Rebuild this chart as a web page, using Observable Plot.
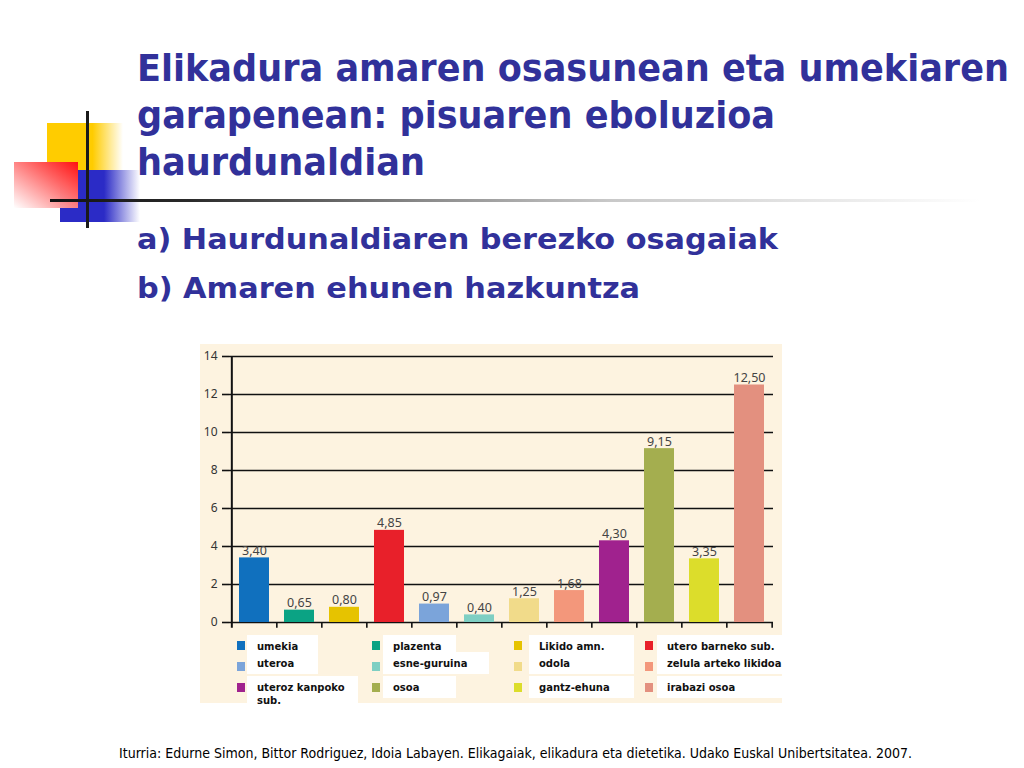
<!DOCTYPE html>
<html>
<head>
<meta charset="utf-8">
<script src="https://cdn.jsdelivr.net/npm/d3@7"></script>
<script src="https://cdn.jsdelivr.net/npm/@observablehq/plot@0.6"></script>
<style>
  html, body { margin: 0; padding: 0; background: #fff; }
  #page { position: relative; width: 1024px; height: 768px; overflow: hidden; background: #fff; }
  .abs { position: absolute; }
  #panel { position: absolute; left: 200px; top: 344px; width: 582px; height: 359px; background: #FDF3E0; }
  #chart { position: absolute; left: 0; top: 0; }
  .lg-box { position: absolute; background: #fff; }
  .lg-sw { position: absolute; width: 8px; height: 9px; }
  .lg-tx { position: absolute; font-family: "DejaVu Sans", Verdana, sans-serif; font-weight: bold; font-size: 10px; color: #111; line-height: 13px; white-space: nowrap; }
</style>
</head>
<body>
<div id="page">
  <!-- decoration -->
  <div class="abs" style="left:47px;top:123px;width:76px;height:47px;background:linear-gradient(to right,#FFCC00 0%,#FFCC00 60%,rgba(255,204,0,0) 100%);"></div>
  <div class="abs" style="left:60px;top:170px;width:80px;height:52px;background:linear-gradient(to right,#2B2BC6 0%,#2B2BC6 55%,rgba(43,43,198,0) 100%);"></div>
  <div class="abs" style="left:14px;top:162px;width:64px;height:46px;background:linear-gradient(to bottom left,#FF1010 0%,#FF6060 35%,rgba(255,255,255,0.9) 100%);"></div>
  <div class="abs" style="left:86px;top:111px;width:3px;height:117px;background:#1a1a1a;"></div>
  <div class="abs" style="left:50px;top:199px;width:930px;height:3px;background:linear-gradient(to right,#111 0%,#2a2a2a 15%,#8a8a8a 40%,#c8c8c8 60%,#e6e6e6 82%,#ffffff 100%);"></div>

  <svg class="abs" style="left:0;top:0" width="1024" height="768" id="texts">
    <g fill="#31319A" font-family="'DejaVu Sans Condensed', 'DejaVu Sans', sans-serif" font-weight="bold">
      <text id="t1" x="137" y="81" font-size="38" textLength="872" lengthAdjust="spacingAndGlyphs"></text>
      <text id="t2" x="137" y="128" font-size="38" textLength="638" lengthAdjust="spacingAndGlyphs"></text>
      <text id="t3" x="137" y="175" font-size="38" textLength="288" lengthAdjust="spacingAndGlyphs"></text>
      <text id="s1" x="137" y="249" font-size="29" textLength="641" lengthAdjust="spacingAndGlyphs"></text>
      <text id="s2" x="137" y="298" font-size="29" textLength="503" lengthAdjust="spacingAndGlyphs"></text>
    </g>
    <text id="foot" x="119" y="758" font-family="'DejaVu Sans Condensed', 'DejaVu Sans', sans-serif" font-size="13.5" fill="#000" textLength="793" lengthAdjust="spacingAndGlyphs"></text>
  </svg>

  <div id="panel">
    <div id="chart"></div>
    <div id="legend"></div>
  </div>
</div>
<script>
// ---- data ----
const titleLines = ["Elikadura amaren osasunean eta umekiaren", "garapenean: pisuaren eboluzioa", "haurdunaldian"];
const subtitleLines = ["a) Haurdunaldiaren berezko osagaiak", "b) Amaren ehunen hazkuntza"];
const footer = "Iturria: Edurne Simon, Bittor Rodriguez, Idoia Labayen. Elikagaiak, elikadura eta dietetika. Udako Euskal Unibertsitatea. 2007.";

const categories = ["umekia", "plazenta", "Likido amn.", "utero barneko sub.", "uteroa", "esne-guruina", "odola", "zelula arteko likidoa", "uteroz kanpoko sub.", "osoa", "gantz-ehuna", "irabazi osoa"];
const values = [3.40, 0.65, 0.80, 4.85, 0.97, 0.40, 1.25, 1.68, 4.30, 9.15, 3.35, 12.50];
const colors = ["#1070BE", "#0BA384", "#E6C300", "#E8202A", "#7BA4DA", "#7ECFC3", "#F1DB8A", "#F3977B", "#A0228E", "#A4AE4F", "#DCDD2B", "#E3907F"];
const legendLabels = ["umekia", "plazenta", "Likido amn.", "utero barneko sub.", "uteroa", "esne-guruina", "odola", "zelula arteko likidoa", "uteroz kanpoko\nsub.", "osoa", "gantz-ehuna", "irabazi osoa"];
const yTicks = [0, 2, 4, 6, 8, 10, 12, 14];

// ---- texts ----
["t1","t2","t3"].forEach((id,i)=>document.getElementById(id).textContent = titleLines[i]);
["s1","s2"].forEach((id,i)=>document.getElementById(id).textContent = subtitleLines[i]);
document.getElementById("foot").textContent = footer;

// ---- chart ----
const data = categories.map((c, i) => ({name: c, value: values[i], color: colors[i]}));
const W = 582, H = 290, mL = 29, mR = 9, mT = 12, mB = 12;
const step = (W - mL - mR) / categories.length;
const fmt = v => d3.format(".2f")(v).replace(".", ",");

const chart = Plot.plot({
  width: W, height: H,
  marginLeft: mL, marginRight: mR, marginTop: mT, marginBottom: mB,
  style: {background: "transparent", fontFamily: "'Noto Sans', 'Open Sans', sans-serif", fontSize: "12px", color: "#222", overflow: "visible"},
  x: {domain: categories, paddingInner: 0.34, paddingOuter: 0.17, axis: null},
  y: {domain: [0, 14], axis: null},
  color: {type: "identity"},
  marks: [
    Plot.ruleY(yTicks, {stroke: "#111", strokeWidth: 1.6}),
    Plot.axisY(yTicks, {tickSize: 7, tickPadding: 5, tickFormat: d => d, stroke: "#111", strokeWidth: 1.6, fill: "#333", fontSize: 12, label: null}),
    Plot.barY(data, {x: "name", y: "value", fill: "color"}),
    Plot.ruleX([categories[0]], {x: d => d, dx: -step / 2, y1: -0.3, y2: 14, stroke: "#111", strokeWidth: 2}),
    Plot.ruleX(categories.slice(1), {x: d => d, dx: -step / 2, y1: -0.3, y2: 0, stroke: "#111", strokeWidth: 1.6}),
    Plot.ruleX([categories[categories.length - 1]], {x: d => d, dx: step / 2, y1: -0.3, y2: 0, stroke: "#111", strokeWidth: 1.6}),
    Plot.text(data, {x: "name", y: "value", text: d => fmt(d.value), lineAnchor: "bottom", dy: -3, fontSize: 12.5, fill: "#444"})
  ]
});
document.getElementById("chart").appendChild(chart);

// ---- legend (inside panel, coordinates relative to panel) ----
const colSwX = [37, 172, 314, 445];
const colTxX = [57, 193, 339, 467];
const colBoxW = [71, 73, 105, 126];
const rowSwY = [297, 318, 339];
const rowTxY = [296, 313, 337];
const legend = document.getElementById("legend");
categories.forEach((c, i) => {
  const col = i % 4, row = Math.floor(i / 4);
  const lines = legendLabels[i].split("\n");
  const box = document.createElement("div");
  box.className = "lg-box";
  const bw = Math.max(colBoxW[col], col === 1 && row === 1 ? 106 : 0, col === 0 && row === 2 ? 111 : 0);
  box.style.left = (colTxX[col] - 10) + "px";
  box.style.top = (rowTxY[row] - 5) + "px";
  box.style.width = bw + "px";
  box.style.height = (lines.length > 1 ? 36 : 22) + "px";
  legend.appendChild(box);
});
categories.forEach((c, i) => {
  const col = i % 4, row = Math.floor(i / 4);
  const sw = document.createElement("div");
  sw.className = "lg-sw";
  sw.style.left = colSwX[col] + "px";
  sw.style.top = rowSwY[row] + "px";
  sw.style.background = colors[i];
  legend.appendChild(sw);
  const tx = document.createElement("div");
  tx.className = "lg-tx";
  tx.style.left = colTxX[col] + "px";
  tx.style.top = rowTxY[row] + "px";
  tx.innerHTML = legendLabels[i].split("\n").join("<br>");
  legend.appendChild(tx);
});
</script>
</body>
</html>
